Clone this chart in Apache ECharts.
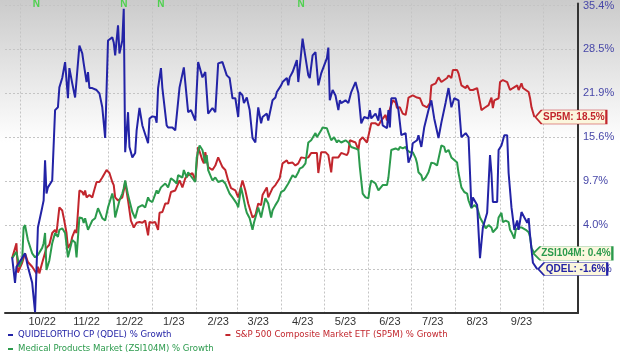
<!DOCTYPE html>
<html><head><meta charset="utf-8">
<script src="https://cdn.jsdelivr.net/npm/echarts@6.0.0/dist/echarts.min.js"></script>
<style>html,body{margin:0;padding:0;background:#fff}#c{width:620px;height:357px}</style>
</head><body><div id="c"></div>
<script>
// ---- axes (x in calendar days since 1 Oct 2022) ----
const monthStartDays = [0,31,61,92,123,151,182,212,243,273,304,335,365];
const monthMidDays = [15,46,76,107,138,166,197,227,258,288,319,350];
const monthLabels = ['10/22','11/22','12/22','1/23','2/23','3/23','4/23','5/23','6/23','7/23','8/23','9/23'];
const tickPct = [-1.6,4.0,9.7,15.6,21.9,28.5,35.4];
const tickLabels = ['-1.6%','4.0%','9.7%','15.6%','21.9%','28.5%','35.4%'];
const bottomGridPct = -6.7;
const newsDays = [11,72,98,196];

// ---- series: QDEL ----
const qdelName = 'QUIDELORTHO CP (QDEL) % Growth';
const qdelDays = [-6,-4,-3,3,5,8,10,12,15,16,17,18,19,22,24,26,27,29,31,33,34,36,38,41,43,44,46,47,48,50,53,55,57,59,61,64,65,66,68,69,71,72,73,75,76,78,80,81,83,85,86,89,90,92,94,95,96,98,99,102,103,106,108,111,114,117,119,122,123,124,127,129,131,134,136,138,141,144,146,148,150,152,153,155,156,158,160,162,164,165,166,168,169,172,173,176,178,179,182,183,186,187,188,190,193,194,197,198,201,202,204,206,208,210,214,215,216,218,220,222,223,224,227,229,231,234,236,238,240,243,244,245,248,250,251,253,256,257,258,259,262,264,266,269,271,273,274,277,278,280,282,285,287,289,292,294,297,299,301,303,306,308,311,313,315,316,319,321,323,326,328,329,330,333,334,336,338,340,341,343,345,347,348,350,352,354,355,356,358,361];
const qdelPct = [-0.1,-3.2,-1.3,0.4,-1.3,-3.2,-6.6,3.7,6.3,7.2,12.5,8.1,8.9,9.8,19.5,19.9,22.8,24.2,26.6,21.2,25.7,23.4,21.3,29.1,27.9,26.4,23.6,25.1,22.7,22.7,22.4,21.9,19.9,15.5,29.9,30.4,29.6,27.6,32.3,27.9,29.9,34.9,13.6,19.2,14.3,12.9,13.5,16.6,19.8,17.3,17.3,14.8,18.3,18.6,18.5,17.7,22.7,25.7,22.7,17.3,17.0,17.0,16.6,22.8,25.8,19.2,19.5,18.0,22.4,26.6,24.3,25.1,19.0,19.8,19.2,26.4,26.6,24.6,24.2,21.2,21.2,18.5,22.1,21.6,20.5,21.3,19.5,15.5,14.9,17.6,19.9,17.6,18.5,19.0,18.0,20.9,21.3,22.1,23.1,23.6,24.2,23.1,24.3,25.1,26.9,23.6,30.2,28.7,24.6,24.2,27.6,28.1,23.1,24.9,27.2,28.8,20.9,22.4,21.6,19.5,20.9,20.5,20.9,20.5,22.1,23.6,21.9,17.6,18.5,18.3,19.5,18.3,19.0,18.0,19.8,17.3,16.9,19.5,17.0,21.2,21.2,19.5,15.9,16.2,12.2,13.2,14.8,15.2,15.9,14.3,17.0,19.5,20.9,18.3,15.5,17.7,20.6,22.7,19.9,21.2,20.9,15.6,16.2,15.6,6.3,7.6,6.6,-0.2,3.7,5.6,13.2,10.8,7.0,7.0,13.9,14.5,15.9,15.9,10.8,6.3,3.4,4.6,3.4,5.7,5.0,4.3,4.9,2.7,-0.8,-1.6];

// ---- series: SP5M ----
const sp5mName = 'S&P 500 Composite Market ETF (SP5M) % Growth';
const sp5mDays = [-6,-3,-2,1,3,5,8,11,12,13,15,18,20,22,24,25,27,29,30,32,33,35,36,38,39,41,43,44,45,46,48,50,51,53,55,57,60,62,64,65,66,68,71,72,73,75,77,79,81,83,85,87,89,90,92,94,96,97,99,101,103,105,108,109,111,113,115,117,120,122,124,127,128,129,131,134,136,138,141,143,145,147,150,152,155,157,159,162,164,166,168,169,172,173,176,178,181,183,186,187,190,192,194,196,199,201,203,207,208,210,213,215,217,218,222,224,228,229,230,234,236,237,239,242,243,245,248,250,252,255,256,257,260,262,263,265,267,269,270,271,274,277,279,281,284,286,287,290,291,292,294,296,298,299,301,302,305,306,308,311,312,314,316,319,321,322,324,327,329,330,331,334,335,337,340,342,344,347,348,350,351,352,355,356,357,359];
const sp5mPct = [-0.2,1.7,-2.0,-0.8,0.4,-0.7,-1.3,-2.1,-1.3,-2.1,-0.8,1.1,1.5,3.0,3.4,3.0,6.3,5.9,5.0,3.0,1.1,1.7,2.5,3.4,3.0,8.5,8.3,7.9,8.5,7.6,7.9,7.6,8.3,9.6,9.6,10.2,11.2,10.8,9.6,9.2,7.6,7.2,7.6,8.5,9.6,7.2,4.6,3.7,4.3,4.4,4.3,4.6,2.7,4.4,4.3,4.4,3.4,5.6,5.7,6.8,6.8,8.3,8.5,8.3,9.8,8.9,10.1,10.5,10.8,9.8,14.3,12.5,12.1,13.6,11.6,11.2,11.8,12.9,11.6,11.2,9.8,8.8,8.5,7.6,9.8,8.5,6.8,5.0,5.3,6.8,6.6,7.9,8.9,7.6,8.8,9.2,10.1,12.1,12.5,12.1,12.2,11.8,12.1,12.9,12.8,12.9,13.5,13.5,10.8,13.6,13.6,13.2,10.9,12.9,12.9,13.5,13.2,13.6,15.2,14.9,13.9,15.2,15.6,14.9,14.8,17.6,17.6,17.3,18.0,18.8,18.0,19.0,20.9,20.6,19.8,19.9,19.0,18.8,19.9,21.3,21.6,21.3,21.2,20.2,19.9,20.5,23.1,23.4,23.6,24.3,23.6,23.9,24.2,24.6,24.2,25.4,25.4,24.9,23.1,22.7,23.1,22.4,22.4,22.7,20.6,19.5,19.8,20.2,21.3,19.8,20.9,21.2,23.6,23.9,23.6,22.4,22.7,23.1,22.4,23.4,22.7,22.4,22.1,21.2,19.9,18.5];

// ---- series: ZSI104M ----
const zsiName = 'Medical Products Market (ZSI104M) % Growth';
const zsiDays = [-6,-3,-1,1,2,3,5,8,10,12,15,16,17,18,20,22,24,26,27,29,31,33,36,38,39,41,43,44,45,47,50,52,54,55,57,59,61,64,65,66,69,71,72,73,75,78,80,82,85,87,89,90,92,95,96,98,99,101,103,105,107,109,110,113,114,116,117,120,122,123,125,127,129,130,131,134,136,138,141,143,144,146,148,151,152,154,155,157,158,160,162,163,165,166,168,169,171,173,175,176,178,180,182,184,187,190,192,194,195,197,199,201,203,206,207,210,211,214,215,217,219,221,222,224,227,229,231,234,236,237,239,241,243,244,245,248,250,253,256,257,259,262,264,265,267,269,270,272,274,276,277,278,280,281,283,285,287,289,291,292,294,296,297,299,301,302,305,306,308,310,312,313,315,317,319,321,323,325,327,329,330,333,334,336,337,339,341,342,343,345,346,348,350,351,353,355,356,357,359];
const zsiPct = [-0.2,0.6,-1.3,-0.5,3.7,4.0,2.1,0.4,-0.1,0.2,1.1,1.7,3.0,-1.7,-0.5,1.7,3.0,2.5,3.4,3.6,3.0,-0.1,2.1,1.8,-0.1,5.0,4.9,4.3,4.9,3.4,4.6,4.9,6.2,6.3,4.9,4.6,6.3,8.1,7.2,5.0,7.2,8.1,8.8,9.8,7.9,5.7,4.9,6.3,6.6,6.3,7.6,7.2,7.0,8.5,8.1,8.9,8.8,9.4,8.9,10.1,9.8,9.4,10.5,10.2,11.2,10.2,10.9,10.1,9.6,12.9,14.5,13.9,12.1,13.2,11.2,9.8,10.2,9.6,9.8,9.4,9.2,8.1,7.6,6.8,6.3,8.9,8.1,6.3,5.6,4.9,3.4,4.3,5.6,6.3,5.0,5.9,7.5,6.8,5.0,5.9,6.6,7.2,8.3,8.5,9.4,10.5,10.2,10.9,11.4,11.6,12.1,14.9,15.2,16.2,15.6,16.6,17.0,16.9,16.3,15.2,15.6,14.9,15.2,14.9,15.2,14.9,14.3,14.1,13.9,11.6,8.1,7.6,7.5,8.9,9.8,9.4,8.5,9.2,9.2,10.2,13.9,14.1,13.9,14.3,14.1,14.3,13.9,13.6,13.6,12.8,12.1,10.9,10.5,9.8,10.2,10.9,12.2,12.1,11.8,11.6,14.5,14.3,13.6,13.9,12.9,12.9,12.2,10.8,8.9,8.3,8.1,7.2,6.2,6.6,6.3,5.0,4.3,3.6,4.0,3.7,3.1,3.7,5.0,5.6,4.4,4.6,4.4,3.4,3.1,2.3,3.4,3.7,3.7,3.6,3.4,3.1,2.5,1.1,0.4];

const cBlue = '#2323a6', cRed = '#c2262d', cGreen = '#2b9a4c';

// growth % -> position on the chart's (non-linear) % scale, piecewise between labelled gridlines
function toAxis(g) {
  if (g <= tickPct[0]) return (g - tickPct[0]) / (tickPct[0] - bottomGridPct);
  for (let k = 0; k < tickPct.length - 1; k++) {
    if (g <= tickPct[k + 1]) return k + (g - tickPct[k]) / (tickPct[k + 1] - tickPct[k]);
  }
  const n = tickPct.length - 1;
  return n + (g - tickPct[n]) / (tickPct[n] - tickPct[n - 1]);
}
const pairs = (days, pct) => days.map((d, i) => [d, toAxis(pct[i])]);
const tagPath = 'path://M0,7 L7,0 L80,0 L80,14 L7,14 Z';
function tag(short, days, pct, color, w, h, dx) {
  const i = days.length - 1;
  return {
    symbol: tagPath, symbolSize: [w, h], symbolOffset: [w / 2 + dx, 0], silent: true,
    itemStyle: {color: '#fbf6dd', borderColor: color, borderWidth: 1},
    label: {show: true, position: 'inside', offset: [3, 0], color: color, fontSize: 10, fontWeight: 'bold',
            fontFamily: 'Liberation Sans', formatter: short + ': ' + pct[i].toFixed(1) + '%'},
    data: [{coord: [days[i], toAxis(pct[i])]}]
  };
}
function line(name, days, pct, color, mp) {
  return {name, type: 'line', data: pairs(days, pct), showSymbol: false, symbol: 'none',
    lineStyle: {color, width: 2}, itemStyle: {color}, markPoint: mp, animation: false};
}

const chart = echarts.init(document.getElementById('c'), null, {renderer: 'canvas'});
const labelIdx = v => monthMidDays.indexOf(v);
const legendFont = {fontFamily: '"DejaVu Sans Condensed", "DejaVu Sans"', fontSize: 9.5};
chart.setOption({
  animation: false,
  backgroundColor: new echarts.graphic.LinearGradient(0, 0, 0, 1, [
    {offset: 0, color: '#cbcbcb'}, {offset: 0.4, color: '#ffffff'}, {offset: 1, color: '#ffffff'}]),
  grid: {left: 5, right: 42, top: 3, bottom: 44, containLabel: false},
  xAxis: {
    type: 'value', min: -11, max: 389.5,
    axisLine: {show: true, onZero: false, lineStyle: {color: '#333', width: 2}},
    axisTick: {show: false, customValues: monthStartDays},
    splitLine: {show: true, lineStyle: {color: '#c4c4c4', type: [2, 2], width: 1}},
    axisLabel: {customValues: monthMidDays, formatter: v => labelIdx(v) >= 0 ? monthLabels[labelIdx(v)] : '',
      color: '#333', fontSize: 11, fontFamily: 'Liberation Sans', margin: 3}
  },
  yAxis: {
    type: 'value', position: 'right', min: -1, max: 6.045, interval: 1,
    axisLine: {show: true, onZero: false, lineStyle: {color: '#333', width: 2}},
    axisTick: {show: false, customValues: [0, 1, 2, 3, 4, 5, 6]},
    splitLine: {show: true, lineStyle: {color: '#c4c4c4', type: [2, 2], width: 1}},
    axisLabel: {customValues: [0, 1, 2, 3, 4, 5, 6],
      formatter: v => (Math.abs(v - Math.round(v)) < 1e-6 && v >= 0 && v <= 6) ? tickLabels[Math.round(v)] : '',
      color: '#4747a8', fontSize: 11, fontFamily: 'Liberation Sans', margin: 5}
  },
  legend: [
    {left: 8, top: 330, padding: 0, icon: 'rect', itemWidth: 5, itemHeight: 2, itemGap: 54,
      textStyle: legendFont,
      data: [{name: qdelName, textStyle: {color: cBlue}}, {name: sp5mName, textStyle: {color: cRed}}]},
    {left: 8, top: 344, padding: 0, icon: 'rect', itemWidth: 5, itemHeight: 2,
      textStyle: legendFont,
      data: [{name: zsiName, textStyle: {color: cGreen}}]}
  ],
  series: [
    line(sp5mName, sp5mDays, sp5mPct, cRed, tag('SP5M', sp5mDays, sp5mPct, cRed, 71, 14, 1)),
    line(zsiName, zsiDays, zsiPct, cGreen, tag('ZSI104M', zsiDays, zsiPct, cGreen, 79, 14, -1)),
    line(qdelName, qdelDays, qdelPct, cBlue, tag('QDEL', qdelDays, qdelPct, cBlue, 69, 13, 1)),
    {type: 'scatter', silent: true, data: newsDays.map(d => [d, 6]), symbolSize: 1,
      itemStyle: {color: 'rgba(0,0,0,0)'},
      label: {show: true, position: 'inside', formatter: 'N', color: '#2fd22f', fontWeight: 'bold', fontSize: 10,
        fontFamily: 'Liberation Sans', offset: [0, -1]}}
  ]
});
</script></body></html>
